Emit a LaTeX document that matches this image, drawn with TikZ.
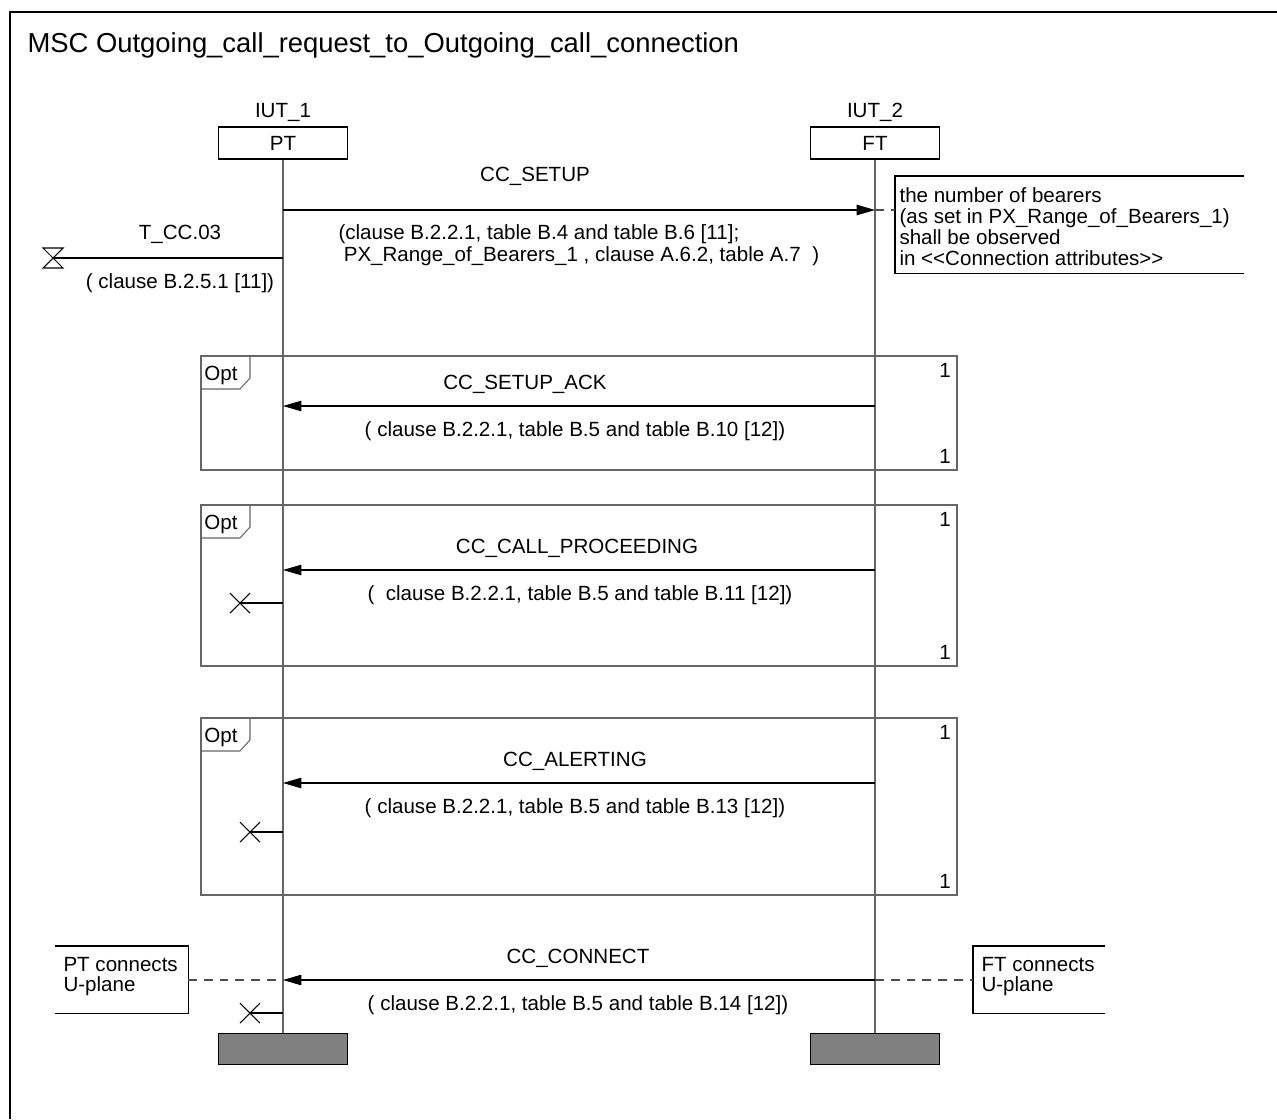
\documentclass[tikz,border=0pt]{standalone}
\usepackage{fontspec}
\setmainfont{Liberation Sans}
\usetikzlibrary{arrows.meta}

\begin{document}
\begin{tikzpicture}[x=0.02cm, y=-0.02cm, line width=0.6pt,
    font=\fontsize{11.7}{13}\selectfont,
    inst/.style={draw, minimum width=2.58cm, minimum height=0.64cm, inner sep=0pt},
    endbox/.style={draw, fill=black!50, minimum width=2.58cm, minimum height=0.62cm, inner sep=0pt},
    life/.style={draw=black!60},
    msg/.style={-{Triangle[length=10.5pt,width=6pt]}},
    lbl/.style={inner sep=0pt},
    notebox/.style={inner sep=0pt, align=left, anchor=north west,
      font=\fontsize{11.7}{12}\selectfont},
    noteline/.style={dash pattern=on 5pt off 4pt, draw=black!70}]
  \useasboundingbox (0,0) rectangle (1277,1119);
  % frame and title
  \draw (10,1119) -- (10,12) -- (1277,12);
  \node[lbl, anchor=west, font=\fontsize{15.6}{18}\selectfont] (title) at (27,45)
    {MSC Outgoing\_call\_request\_to\_Outgoing\_call\_connection};

  % instances
  \node[inst] (pt) at (283,143) {PT};
  \node[inst] (ft) at (875,143) {FT};
  \node[lbl] (iut1) at (283,112) {IUT\_1};
  \node[lbl] (iut2) at (875,112) {IUT\_2};
  \node[endbox] (ptend) at (283,1049) {};
  \node[endbox] (ftend) at (875,1049) {};
  \draw[life] (pt) -- (ptend);
  \draw[life] (ft) -- (ftend);

  % opt frames
  \foreach \top/\bot in {356/470, 505/666, 718/895}{
    \draw[draw=black!60] (201,\top) rectangle (957,\bot);
    \draw[draw=black!60] (201,\top+33) -- (240,\top+33) -- (250,\top+22) -- (250,\top);
    \node[lbl] (opt\top) at (221,\top+19) {Opt};
    \node[lbl] (one\top) at (945,\top+14) {1};
    \node[lbl] (one\bot) at (945,\bot-14) {1};
  }

  % CC_SETUP
  \coordinate (setupA) at (283,210);
  \coordinate (setupB) at (875,210);
  \draw[msg] (setupA) -- (setupB);
  \node[lbl] (setup) at (535,176) {CC\_SETUP};
  \node[lbl, anchor=west, align=left, font=\fontsize{11.7}{12.5}\selectfont] (setupprm) at (338,245)
    {(clause B.2.2.1, table B.4 and table B.6 [11];\\
     \hspace{3pt}PX\_Range\_of\_Bearers\_1 , clause A.6.2, table A.7\ \ )};
  \node[notebox, minimum width=6.96cm, minimum height=1.92cm] (bearers) at (895,176) {};
  \node[notebox] (bearerstxt) at (899,187)
    {the number of bearers\\(as set in PX\_Range\_of\_Bearers\_1)\\shall be observed\\in <{}<Connection attributes>{}>};
  \draw (bearers.north east) -- (bearers.north west) -- (bearers.south west) -- (bearers.south east);
  \draw[noteline] (setupB) -- (bearers.west |- setupB);

  % timer
  \coordinate (timerA) at (283,258);
  \coordinate (timerB) at (53,258);
  \draw (timerA) -- (timerB);
  \draw (timerB) ++(-10,-10) -- ++(20,0) -- ++(-20,20) -- ++(20,0) -- cycle;
  \node[lbl] (timer) at (180,234) {T\_CC.03};
  \node[lbl] (timerprm) at (180,283) {( clause B.2.5.1 [11])};

  % FT -> PT messages
  \foreach \y/\lx/\lab/\px/\prm in {
      406/525/CC\_SETUP\_ACK/575/{( clause B.2.2.1, table B.5 and table B.10 [12])},
      570/577/CC\_CALL\_PROCEEDING/580/{(\ \ clause B.2.2.1, table B.5 and table B.11 [12])},
      783/575/CC\_ALERTING/575/{( clause B.2.2.1, table B.5 and table B.13 [12])},
      980/578/CC\_CONNECT/578/{( clause B.2.2.1, table B.5 and table B.14 [12])}
  }{
    \coordinate (ft\y) at (875,\y);
    \coordinate (pt\y) at (283,\y);
    \draw[msg] (ft\y) -- (pt\y);
    \node[lbl] (lab\y) at (\lx,\y-22) {\lab};
    \node[lbl] (prm\y) at (\px,\y+25) {\prm};
  }

  % stops
  \foreach \x/\y in {240/603, 250/832, 250/1013}{
    \coordinate (stop\y) at (\x,\y);
    \draw (283,\y) -- (stop\y);
    \draw (stop\y) ++(-10,-10) -- ++(20,20) ++(-20,0) -- ++(20,-20);
  }

  % U-plane notes
  \node[notebox, minimum width=2.64cm, minimum height=1.32cm] (ptnote) at (55,946) {};
  \node[notebox, font=\fontsize{11.7}{11.4}\selectfont] (ptnotetxt) at (63,957) {PT connects\\U-plane};
  \draw (ptnote.north west) -- (ptnote.north east) -- (ptnote.south east) -- (ptnote.south west);
  \draw[noteline] (ptnote.east |- pt980) -- (pt980);
  \node[notebox, minimum width=2.62cm, minimum height=1.32cm] (ftnote) at (973,946) {};
  \node[notebox, font=\fontsize{11.7}{11.4}\selectfont] (ftnotetxt) at (981,957) {FT connects\\U-plane};
  \draw (ftnote.north east) -- (ftnote.north west) -- (ftnote.south west) -- (ftnote.south east);
  \draw[noteline] (ft980) -- (ftnote.west |- ft980);
\end{tikzpicture}
\end{document}
